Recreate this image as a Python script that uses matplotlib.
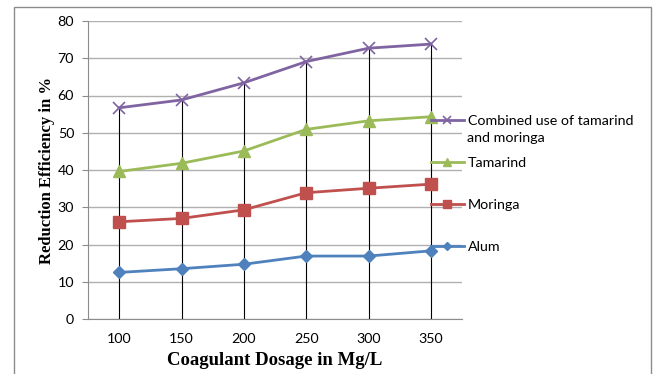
import numpy as np
import matplotlib
matplotlib.use('Agg')
import matplotlib.pyplot as plt
from matplotlib.patches import Rectangle

# data
dosage = ['100', '150', '200', '250', '300', '350']
combined = [56.7, 58.8, 63.4, 69.1, 72.7, 73.8]
tamarind = [39.6, 41.8, 45.1, 50.9, 53.2, 54.3]
moringa = [26.1, 27.0, 29.3, 33.9, 35.1, 36.2]
alum = [12.5, 13.5, 14.7, 16.9, 16.9, 18.3]

x = np.arange(len(dosage))

fig = plt.figure(figsize=(6.58, 3.74), dpi=100)
ax = fig.add_axes([88/658, 1 - 319/374, (462 - 88)/658, (319 - 21)/374])

# outer frame like the Excel chart area
fig.patches.append(Rectangle((14/658, -0.02), (651 - 14)/658, 1.02 - 7/374,
                             transform=fig.transFigure, fill=False,
                             edgecolor='#8c8c8c', linewidth=1.0))

# drop lines from top series to the axis
tops = np.max([combined, tamarind, moringa, alum], axis=0)
ax.vlines(x, 0, tops, color='black', linewidth=0.8, zorder=2)

ax.plot(x, alum, color='#4F81BD', marker='D', markersize=6, linewidth=2, zorder=3, label='Alum')
ax.plot(x, moringa, color='#C0504D', marker='s', markersize=8, linewidth=2, zorder=3, label='Moringa')
ax.plot(x, tamarind, color='#9BBB59', marker='^', markersize=9, linewidth=2, zorder=3, label='Tamarind')
ax.plot(x, combined, color='#8064A2', marker='x', markersize=9, markeredgewidth=1.2, linewidth=2,
        zorder=3, label='Combined use of tamarind')

ax.set_xlim(-0.5, len(dosage) - 0.5)
ax.set_ylim(0, 80)
ax.set_yticks(np.arange(0, 81, 10))
ax.set_xticks(x)
ax.set_xticklabels(dosage)
ax.grid(axis='y', color='#b0b0b0', linewidth=1)
ax.set_axisbelow(True)

for s in ['top', 'right']:
    ax.spines[s].set_visible(False)
ax.spines['left'].set_color('#8c8c8c')
ax.spines['bottom'].set_color('#8c8c8c')
ax.tick_params(axis='y', length=4, color='#8c8c8c', labelsize=10.3, pad=6)
ax.tick_params(axis='x', length=0, labelsize=10.3, pad=10)
for lab in ax.get_xticklabels() + ax.get_yticklabels():
    lab.set_fontfamily('Lato')

ax.set_xlabel('Coagulant Dosage in Mg/L', fontfamily='Liberation Serif', fontweight='bold',
              fontsize=13.5, labelpad=5)
ax.set_ylabel('Reduction Efficiency in %', fontfamily='Liberation Serif', fontweight='bold',
              fontsize=12, labelpad=2)

handles, labels = ax.get_legend_handles_labels()
leg = fig.legend(handles[::-1], labels[::-1], loc='upper left',
                 bbox_to_anchor=(418/658, 1 - 102/374), frameon=False,
                 prop={'family': 'Lato', 'size': 10.3}, handlelength=2.3,
                 handletextpad=0.3, labelspacing=2.1, markerscale=0.7)

# second line of the first legend label
fig.text(467/658, 1 - 138/374, 'and moringa', fontfamily='Lato', fontsize=10.3,
         va='center', ha='left')

fig.savefig('out.png', dpi=100)
